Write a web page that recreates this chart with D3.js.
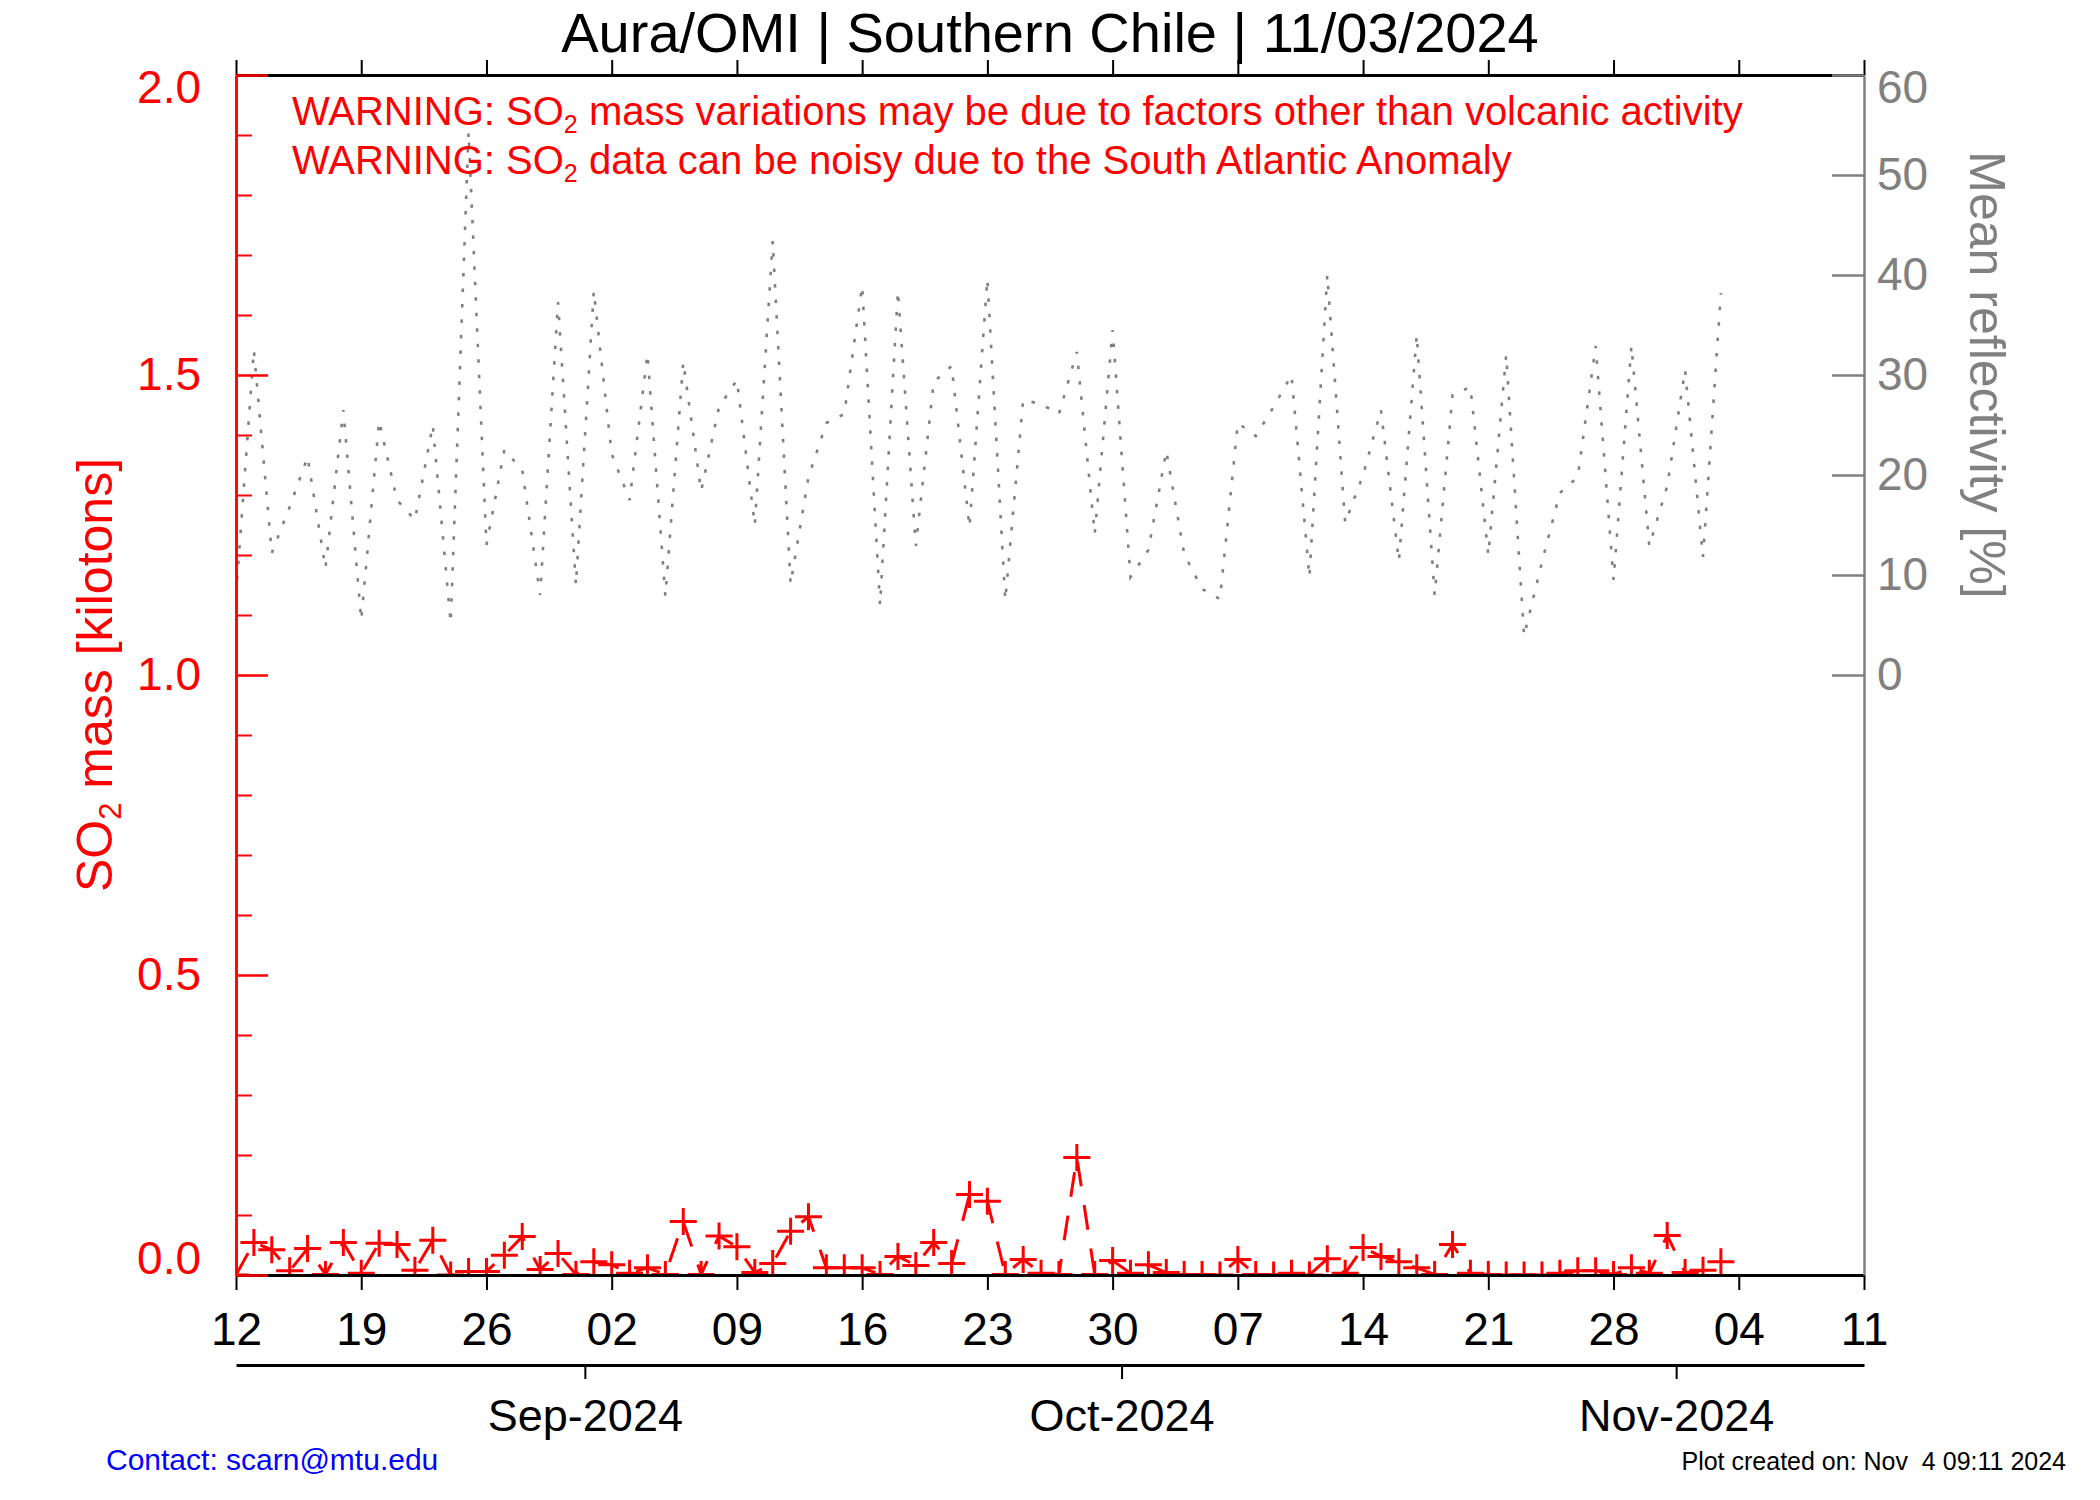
<!DOCTYPE html>
<html><head><meta charset="utf-8">
<script src="https://cdn.jsdelivr.net/npm/d3@7"></script>
<style>
html,body{margin:0;padding:0;background:#fff;}
svg{display:block;font-family:"Liberation Sans",Arial,Helvetica,sans-serif;}
</style></head><body>
<svg id="chart" width="2100" height="1500"></svg>
<script>
// ---------------- data ----------------
const startDate = "2024-08-12";          // first daily observation
const axisStart = "2024-08-12";
const axisEnd = "2024-11-11";
const so2Mass = [ // kilotons, one value per day from startDate
  0.000,0.054,0.042,0.007,0.044,0.001,0.054,0.003,0.053,0.051,
  0.008,0.058,0.000,0.006,0.006,0.033,0.064,0.009,0.036,0.001,
  0.022,0.017,0.003,0.012,0.001,0.089,0.001,0.065,0.047,0.004,
  0.019,0.073,0.097,0.012,0.012,0.012,0.001,0.031,0.016,0.054,
  0.019,0.134,0.123,0.001,0.026,0.003,0.001,0.196,0.001,0.024,
  0.003,0.017,0.004,0.001,0.001,0.000,0.026,0.001,0.000,0.003,
  0.000,0.027,0.003,0.046,0.031,0.022,0.012,0.001,0.051,0.003,
  0.001,0.000,0.000,0.000,0.003,0.007,0.007,0.001,0.012,0.003,
  0.066,0.004,0.008,0.022];
const reflectivity = [ // mean reflectivity %, one value per day from startDate
  8.0,32.5,12.2,16.8,21.8,10.7,26.5,5.5,25.4,17.5,
  15.5,25.0,5.2,54.3,13.0,22.5,20.5,8.0,37.3,9.0,
  38.4,22.1,17.5,32.1,7.9,31.3,18.4,26.8,29.5,15.0,
  43.4,9.1,19.8,25.2,26.1,38.9,7.0,38.4,12.9,29.3,
  30.9,14.8,39.6,7.5,27.5,27.1,26.1,32.3,14.1,34.5,
  9.8,12.5,22.4,12.1,8.6,7.6,25.2,23.9,26.8,30.0,
  9.8,40.0,15.2,20.0,26.5,11.4,34.0,8.0,28.0,28.8,
  12.0,32.0,3.9,11.3,18.2,19.8,32.9,9.5,32.9,12.9,
  18.9,30.5,11.8,38.2];
const weekTickDates = ["2024-08-12","2024-08-19","2024-08-26","2024-09-02","2024-09-09","2024-09-16","2024-09-23",
  "2024-09-30","2024-10-07","2024-10-14","2024-10-21","2024-10-28","2024-11-04","2024-11-11"];
const weekTickLabels = ["12","19","26","02","09","16","23","30","07","14","21","28","04","11"];
const monthTickDates = ["2024-09-01","2024-10-01","2024-11-01"];
const monthTickLabels = ["Sep-2024","Oct-2024","Nov-2024"];
const so2MajorTicks = [0,0.5,1.0,1.5,2.0];
const so2MinorTicks = [0.1,0.2,0.3,0.4,0.6,0.7,0.8,0.9,1.1,1.2,1.3,1.4,1.6,1.7,1.8,1.9];
const so2TickLabels = ["0.0","0.5","1.0","1.5","2.0"];
const reflTicks = [0,10,20,30,40,50,60];
const titleText = "Aura/OMI | Southern Chile | 11/03/2024";
const warnings = [
  ["WARNING: SO", "2", " mass variations may be due to factors other than volcanic activity"],
  ["WARNING: SO", "2", " data can be noisy due to the South Atlantic Anomaly"]];
const contactText = "Contact: scarn@mtu.edu";
const createdText = "Plot created on: Nov  4 09:11 2024";

// ---------------- layout ----------------
const L = 236, R = 1864, T = 75, B = 1275;
const RED = "#ff0000", GRAY = "#808080";
const parse = d3.utcParse("%Y-%m-%d");
const svg = d3.select("#chart");

const x = d3.scaleUtc().domain([parse(axisStart), parse(axisEnd)]).range([L, R]);
const yL = d3.scaleLinear().domain([0, 2]).range([B, T]);
const yR = d3.scaleLinear().domain([-60, 60]).range([B, T]);

const t0 = parse(startDate);
const so2Data = so2Mass.map((v, i) => ({date: d3.utcDay.offset(t0, i), v}));
const reflData = reflectivity.map((v, i) => ({date: d3.utcDay.offset(t0, i), v}));

svg.append("defs").append("clipPath").attr("id", "plotclip")
  .append("rect").attr("x", L).attr("y", T).attr("width", R - L).attr("height", B - T);

// ---------------- data layers ----------------
const plot = svg.append("g").attr("clip-path", "url(#plotclip)");
plot.append("path").datum(reflData)
  .attr("d", d3.line().x(d => x(d.date)).y(d => yR(d.v)))
  .attr("fill", "none").attr("stroke", GRAY).attr("stroke-width", 2.6)
  .attr("stroke-dasharray", "3.5,12");

plot.append("path").datum(so2Data)
  .attr("d", d3.line().x(d => x(d.date)).y(d => yL(d.v)))
  .attr("fill", "none").attr("stroke", RED).attr("stroke-width", 3)
  .attr("stroke-dasharray", "25,19");
plot.selectAll("path.mk").data(so2Data).join("path").attr("class", "mk")
  .attr("transform", d => `translate(${x(d.date)},${yL(d.v)})`)
  .attr("d", "M-13.5,0H13.5M0,-13.5V13.5")
  .attr("stroke", RED).attr("stroke-width", 3).attr("fill", "none");

// ---------------- axes ----------------
function style(g, color, domainW, tickW) {
  g.attr("font-family", null);
  g.select(".domain").attr("stroke", color).attr("stroke-width", domainW);
  g.selectAll(".tick line").attr("stroke", color).attr("stroke-width", tickW);
  g.selectAll(".tick text").attr("fill", color);
}

const weekDates = weekTickDates.map(parse);
// bottom date axis
const gB = svg.append("g").attr("transform", `translate(0,${B})`)
  .call(d3.axisBottom(x).tickValues(weekDates).tickSize(15).tickSizeOuter(0).tickPadding(22)
    .tickFormat((d, i) => weekTickLabels[i]));
style(gB, "#000", 3, 2);
gB.selectAll(".tick text").attr("font-size", 46);
// top axis (ticks outward, no labels)
const gT = svg.append("g").attr("transform", `translate(0,${T})`)
  .call(d3.axisTop(x).tickValues(weekDates).tickSize(15).tickSizeOuter(0).tickFormat(""));
style(gT, "#000", 3, 2);

// month axis (IDL Julian-day convention: month boundaries fall half a day before the day ticks)
const monthDates = monthTickDates.map(s => d3.utcHour.offset(parse(s), -12));
const gM = svg.append("g").attr("transform", `translate(0,1365)`)
  .call(d3.axisBottom(x).tickValues(monthDates).tickSize(14).tickSizeOuter(0).tickPadding(20)
    .tickFormat((d, i) => monthTickLabels[i]));
style(gM, "#000", 3.2, 2);
gM.selectAll(".tick text").attr("font-size", 45);

// left SO2 axis
const gLm = svg.append("g").attr("transform", `translate(${L},0)`)
  .call(d3.axisLeft(yL).tickValues(so2MinorTicks).tickSize(-16).tickSizeOuter(0).tickFormat(""));
style(gLm, RED, 2.5, 2);
const gL = svg.append("g").attr("transform", `translate(${L},0)`)
  .call(d3.axisLeft(yL).tickValues(so2MajorTicks).tickSize(-32).tickSizeOuter(0).tickPadding(35)
    .tickFormat((d, i) => so2TickLabels[i]));
style(gL, RED, 2.5, 2.5);
gL.selectAll(".tick text").attr("font-size", 46)
  .attr("dy", d => d === 2 ? "0.6em" : d === 0 ? "-0.04em" : "0.32em");

// right reflectivity axis
const gR = svg.append("g").attr("transform", `translate(${R},0)`)
  .call(d3.axisRight(yR).tickValues(reflTicks).tickSize(-32).tickSizeOuter(0).tickPadding(13));
style(gR, GRAY, 2.5, 2.5);
gR.selectAll(".tick text").attr("font-size", 46)
  .attr("dy", d => d === 60 ? "0.6em" : "0.32em");

// ---------------- texts ----------------
svg.append("text").attr("x", (L + R) / 2).attr("y", 52).attr("text-anchor", "middle")
  .attr("font-size", 56).attr("fill", "#000").text(titleText);

warnings.forEach((w, i) => {
  const t = svg.append("text").attr("x", 292).attr("y", 125 + i * 49)
    .attr("font-size", 40).attr("fill", RED);
  t.append("tspan").text(w[0]);
  t.append("tspan").attr("font-size", 25).attr("dy", 8).text(w[1]);
  t.append("tspan").attr("dy", -8).text(w[2]);
});

const yt = svg.append("text").attr("transform", `translate(112,${(T + B) / 2}) rotate(-90)`)
  .attr("text-anchor", "middle").attr("font-size", 50).attr("fill", RED);
yt.append("tspan").text("SO");
yt.append("tspan").attr("font-size", 31).attr("dy", 9).text("2");
yt.append("tspan").attr("dy", -9).text(" mass [kilotons]");

svg.append("text").attr("transform", `translate(1970,${(yR(0) + yR(60)) / 2}) rotate(90)`)
  .attr("text-anchor", "middle").attr("font-size", 50).attr("fill", GRAY)
  .text("Mean reflectivity [%]");

svg.append("text").attr("x", 106).attr("y", 1470).attr("font-size", 30).attr("fill", "#0000ff")
  .text(contactText);
svg.append("text").attr("x", 2066).attr("y", 1470).attr("text-anchor", "end")
  .attr("font-size", 25).attr("fill", "#000").style("white-space", "pre").text(createdText);
</script>
</body></html>
